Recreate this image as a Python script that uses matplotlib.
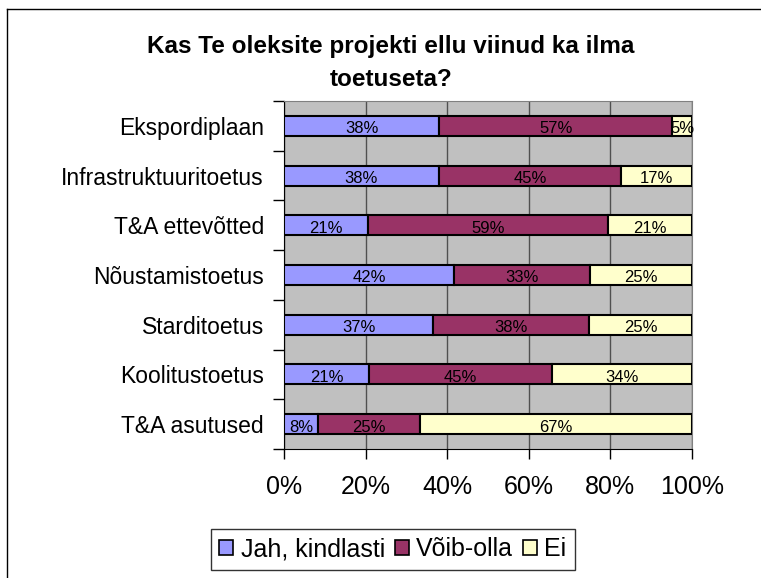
import numpy as np
import matplotlib
matplotlib.use('Agg')
import matplotlib.pyplot as plt
from matplotlib.patches import Patch
from matplotlib.lines import Line2D

plt.rcParams['font.family'] = ['Liberation Sans', 'DejaVu Sans']

kategooriad = ['Ekspordiplaan', 'Infrastruktuuritoetus', 'T&A ettevõtted', 'Nõustamistoetus',
               'Starditoetus', 'Koolitustoetus', 'T&A asutused']
jah = [38.1, 37.9, 20.7, 41.7, 36.6, 20.9, 8.3]
voib = [57.1, 44.8, 58.6, 33.3, 38.2, 44.8, 25.0]
ei = [4.8, 17.2, 20.7, 25.0, 25.2, 34.3, 66.7]
seeriad = ['Jah, kindlasti', 'Võib-olla', 'Ei']
varvid = ['#9999FF', '#993366', '#FFFFCC']

fig = plt.figure(figsize=(7.61, 5.78), dpi=100)
ax = fig.add_axes([284/761, 1-449/578, (692-284)/761, (449-101)/578])
ax.set_facecolor('#C0C0C0')

y = np.arange(len(kategooriad))
vasak = np.zeros(len(kategooriad))
for nimi, vaartused, varv in zip(seeriad, [jah, voib, ei], varvid):
    vaartused = np.array(vaartused)
    ax.barh(y, vaartused, left=vasak, height=0.4, color=varv, edgecolor='black',
            linewidth=1.5, label=nimi, zorder=3)
    for yi, l, v in zip(y, vasak, vaartused):
        ax.text(l + v/2, yi + 0.06, f'{v:.0f}%', ha='center', va='center',
                fontsize=12, color='black', zorder=4)
    vasak = vasak + vaartused

ax.set_xlim(0, 100)
ax.set_ylim(len(kategooriad) - 0.5, -0.5)
ax.set_xticks(np.arange(0, 101, 20))
ax.set_xticklabels([f'{t}%' for t in range(0, 101, 20)], fontsize=18)
ax.xaxis.grid(True, color='#505050', linewidth=1, zorder=0)
ax.set_axisbelow(True)

ax.set_yticks(np.arange(-0.5, len(kategooriad), 1))
ax.set_yticklabels([])
ax.set_yticks(y, minor=True)
ax.set_yticklabels(kategooriad, minor=True, fontsize=16.5)
ax.tick_params(axis='y', which='major', length=8, width=1, direction='out')
ax.tick_params(axis='y', which='minor', length=0, pad=14.5)
ax.tick_params(axis='x', length=7, width=1, direction='out', pad=12)

for s in ['top', 'right']:
    ax.spines[s].set_color('#808080')
for s in ['left', 'bottom']:
    ax.spines[s].set_color('black')

fig.text(391/761, 1-46/578, 'Kas Te oleksite projekti ellu viinud ka ilma', ha='center', va='center',
         fontsize=17.5, fontweight='bold')
fig.text(391/761, 1-80/578, 'toetuseta?', ha='center', va='center',
         fontsize=17.5, fontweight='bold')

kasitsejad = [Patch(facecolor=c, edgecolor='black', linewidth=1.2) for c in varvid]
leg = fig.legend(kasitsejad, seeriad, loc='center', bbox_to_anchor=(393/761, 1-549.5/578),
                 ncol=3, fontsize=18, frameon=True, fancybox=False, handlelength=0.55,
                 handleheight=0.55, handletextpad=0.3, columnspacing=0.4, borderpad=0.35,
                 borderaxespad=0)
leg.get_frame().set_edgecolor('black')
leg.get_frame().set_linewidth(1)

fig.add_artist(Line2D([7/761, 7/761], [0, 1-9/578], color='black', linewidth=1))
fig.add_artist(Line2D([7/761, 1], [1-9/578, 1-9/578], color='black', linewidth=1))

fig.savefig('out.png', dpi=100)
